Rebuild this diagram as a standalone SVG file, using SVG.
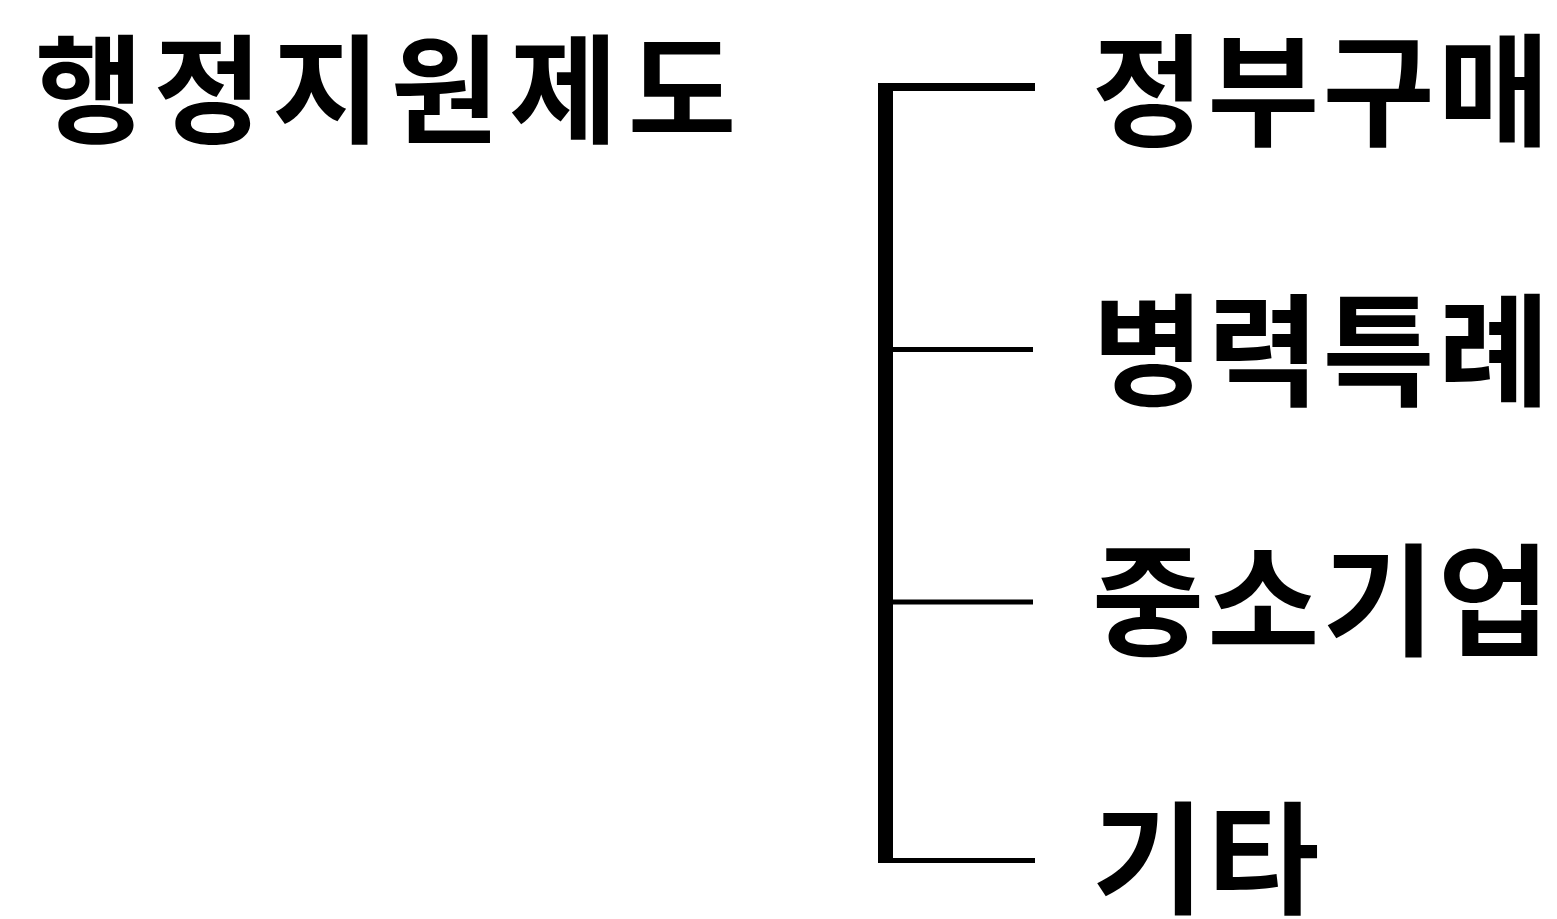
<svg xmlns="http://www.w3.org/2000/svg" width="1557" height="919" viewBox="0 0 1557 919">
<style>
.t{font-family:"Noto Sans CJK KR","Noto Sans CJK SC",sans-serif;font-weight:700;fill:#000}
.h{font-size:118px;letter-spacing:10px}
.n{font-size:122px;letter-spacing:3px}
.l{stroke:#000;fill:none;stroke-linecap:butt}
</style>
<rect width="1557" height="919" fill="#fff"/>
<g id="title"><text class="t h" x="35" y="134">행정지원제도</text></g>
<g id="connectors">
<line class="l" x1="885.5" y1="83" x2="885.5" y2="863" stroke-width="15"/>
<line class="l" x1="878" y1="87" x2="1035" y2="87" stroke-width="8"/>
<line class="l" x1="885" y1="349.5" x2="1033" y2="349.5" stroke-width="5"/>
<line class="l" x1="885" y1="602" x2="1033" y2="602" stroke-width="5"/>
<line class="l" x1="878" y1="860.5" x2="1035" y2="860.5" stroke-width="5"/>
</g>
<g id="n1"><text class="t n" x="1092" y="136">정부구매</text></g>
<g id="n2"><text class="t n" x="1092" y="396">병력특례</text></g>
<g id="n3"><text class="t n" x="1092" y="646">중소기업</text></g>
<g id="n4"><text class="t n" x="1092" y="904">기타</text></g>
</svg>
